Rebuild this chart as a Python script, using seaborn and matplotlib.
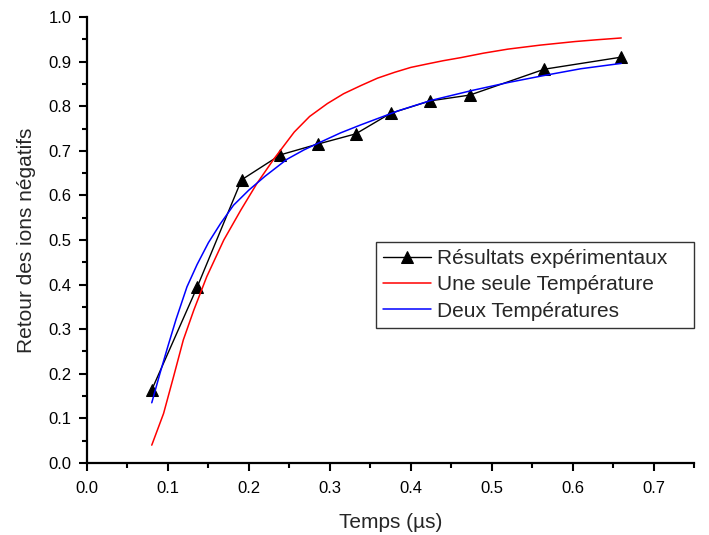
import matplotlib
matplotlib.use('Agg')
import matplotlib.pyplot as plt
import matplotlib.ticker as mticker
import pandas as pd
import seaborn as sns

exp_t = [0.080, 0.136, 0.191, 0.239, 0.285, 0.332, 0.375, 0.424, 0.473, 0.565, 0.660]
exp_r = [0.164, 0.394, 0.635, 0.691, 0.715, 0.738, 0.784, 0.812, 0.825, 0.883, 0.910]

# Single-temperature fit (red)
one_t = [0.080, 0.0946, 0.107, 0.119, 0.132, 0.148, 0.169, 0.190, 0.210, 0.231,
         0.256, 0.275, 0.297, 0.317, 0.338, 0.359, 0.380, 0.400, 0.421, 0.440,
         0.462, 0.490, 0.520, 0.560, 0.603, 0.630, 0.660]
one_r = [0.040, 0.111, 0.194, 0.276, 0.343, 0.418, 0.500, 0.567, 0.627, 0.682,
         0.742, 0.777, 0.806, 0.828, 0.846, 0.863, 0.876, 0.887, 0.895, 0.902,
         0.909, 0.919, 0.928, 0.937, 0.945, 0.949, 0.953]

# Two-temperature fit (blue)
two_t = [0.080, 0.090, 0.100, 0.110, 0.1235, 0.136, 0.150, 0.165, 0.181, 0.200,
         0.220, 0.247, 0.268, 0.289, 0.313, 0.338, 0.360, 0.385, 0.425, 0.475,
         0.520, 0.565, 0.610, 0.660]
two_r = [0.135, 0.200, 0.262, 0.322, 0.395, 0.445, 0.494, 0.537, 0.578, 0.612,
         0.643, 0.681, 0.702, 0.720, 0.740, 0.758, 0.773, 0.790, 0.813, 0.835,
         0.853, 0.869, 0.884, 0.896]

sns.set_style('ticks')
plt.rcParams['font.family'] = ['Liberation Sans', 'DejaVu Sans']

df_exp = pd.DataFrame({'t': exp_t, 'r': exp_r})
df_one = pd.DataFrame({'t': one_t, 'r': one_r})
df_two = pd.DataFrame({'t': two_t, 'r': two_r})

fig = plt.figure(figsize=(7.09, 5.35), dpi=100)
ax = fig.add_axes([0.1227, 0.1346, 0.8563, 0.8336])

sns.lineplot(data=df_exp, x='t', y='r', ax=ax, color='black', lw=1,
             marker='^', markersize=9, markeredgecolor='black',
             sort=False, estimator=None, label='Résultats expérimentaux')
sns.lineplot(data=df_one, x='t', y='r', ax=ax, color='red', lw=1.1,
             sort=False, estimator=None, label='Une seule Température')
sns.lineplot(data=df_two, x='t', y='r', ax=ax, color='blue', lw=1.1,
             sort=False, estimator=None, label='Deux Températures')

ax.set_xlim(0, 0.75)
ax.set_ylim(0, 1.0)
ax.xaxis.set_major_locator(mticker.MultipleLocator(0.1))
ax.xaxis.set_minor_locator(mticker.MultipleLocator(0.05))
ax.yaxis.set_major_locator(mticker.MultipleLocator(0.1))
ax.yaxis.set_minor_locator(mticker.MultipleLocator(0.05))
ax.xaxis.set_major_formatter(mticker.FormatStrFormatter('%.1f'))
ax.yaxis.set_major_formatter(mticker.FormatStrFormatter('%.1f'))

for s in ['top', 'right']:
    ax.spines[s].set_visible(False)
for s in ['left', 'bottom']:
    ax.spines[s].set_linewidth(1.6)
    ax.spines[s].set_color('black')

ax.tick_params(which='major', length=6, width=1.5, labelsize=12, colors='black')
ax.tick_params(axis='x', which='major', pad=7)
ax.tick_params(axis='y', which='major', pad=5)
ax.tick_params(which='minor', length=3.5, width=1.5, colors='black')

ax.set_xlabel('Temps (µs)', fontsize=15, labelpad=12)
ax.set_ylabel('Retour des ions négatifs', fontsize=15, labelpad=9)

leg = ax.legend(loc='upper left', bbox_to_anchor=(0.4756, 0.303, 0.5244, 0.193),
                mode='expand', borderaxespad=0,
                fontsize=15, frameon=True, fancybox=False, edgecolor='black',
                handlelength=2.3, handletextpad=0.3, labelspacing=0.35,
                borderpad=0.35)
leg.get_frame().set_linewidth(1.0)

fig.savefig('out.png', dpi=100)
